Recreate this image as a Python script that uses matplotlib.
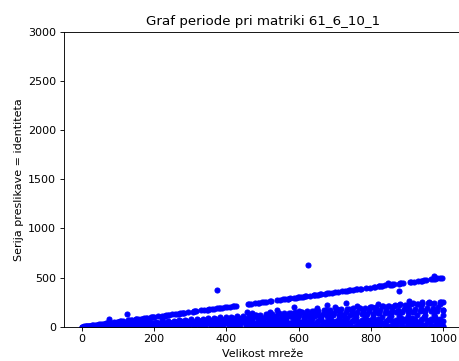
import matplotlib
matplotlib.use("Agg")
import matplotlib.pyplot as plt

title = "Graf periode pri matriki 61_6_10_1"
x_label = "Velikost mreže"
y_label = "Serija preslikave = identiteta"
y_ticks = [0, 500, 1000, 1500, 2000, 2500, 3000]
x_ticks = [0, 200, 400, 600, 800, 1000]

# points on the upper line (period about half of the size)
top_line = [(1,1),(3,1),(7,3),(11,5),(13,7),(17,8),(19,9),(23,11),(29,14),(31,15),(37,19),(41,20),
    (43,22),(47,23),(53,27),(59,29),(61,30),(67,33),(71,35),(73,37),(79,39),(83,41),(89,44),
    (97,48),(101,50),(103,52),(107,53),(109,54),(113,56),(127,64),(131,65),(137,68),(139,70),
    (149,74),(151,75),(157,79),(163,81),(167,83),(173,87),(179,89),(181,90),(191,95),(193,96),
    (197,99),(199,100),(211,105),(223,112),(227,113),(229,114),(233,117),(239,119),(241,120),
    (251,125),(257,128),(263,132),(269,134),(271,136),(277,138),(281,140),(283,142),(293,146),
    (307,153),(311,155),(313,157),(317,158),(331,165),(337,169),(347,173),(349,175),(353,176),
    (359,179),(367,184),(373,186),(379,189),(383,192),(389,194),(397,199),(401,200),(409,204),
    (419,209),(421,211),(427,214),(461,230),(463,232),(467,233),(479,239),(487,244),(491,245),
    (499,250),(503,251),(509,254),(521,261),(523,261),(541,270),(547,274),(557,278),(563,282),
    (569,284),(571,286),(577,288),(587,294),(593,296),(599,300),(601,300),(607,304),(613,306),
    (617,309),(619,310),(631,315),(641,320),(643,322),(647,323),(653,326),(659,329),(661,331),
    (673,336),(677,339),(683,341),(691,346),(701,350),(709,355),(719,359),(727,364),(733,366),
    (739,370),(743,371),(751,375),(757,379),(761,380),(769,385),(773,386),(787,394),(797,399),
    (809,404),(811,406),(821,410),(823,412),(827,413),(829,415),(839,420),(853,426),(857,429),
    (859,430),(863,432),(877,438),(881,440),(883,442),(887,443),(907,454),(911,455),(919,460),
    (929,464),(937,469),(941,470),(947,474),(953,477),(967,484),(971,485),(977,489),(983,492),
    (991,496),(997,499)]

# isolated high points
outliers = [(75,75),(125,125),(375,375),(625,625),(975,520),(878,368),(848,448)]

# middle layer (roughly a quarter to a third of the size)
middle_layer = [(456,150),(470,140),(520,150),(540,175),(588,196),(600,160),(650,195),(679,224),
    (700,200),(731,244),(760,210),(800,200),(820,235),(850,215),(880,230),(905,262),(915,240),
    (940,250),(960,255),(990,230),(1000,250),(1000,170),(1000,60),(999,0),(996,10)]

# dense lower band
lower_band = [(2,0),(9,2),(15,4),(21,3),(27,6),(35,5),(40,10),(48,8),(55,12),(62,7),(70,15),
    (77,10),(85,18),(93,9),
    (102,17),(102,8),(110,27),(110,4),(118,20),(118,10),(126,42),(126,6),(134,22),(134,12),
    (142,35),(142,2),(150,25),(150,14),(158,39),(158,6),(166,28),(166,20),(174,58),(174,10),
    (182,30),(182,15),(182,3),(190,47),(190,24),(198,33),(198,11),(206,51),(206,17),(206,4),
    (214,35),(214,8),(222,74),(222,18),(230,38),(230,23),(230,6),(238,59),(238,12),(246,41),
    (246,20),(246,2),(254,63),(254,31),(262,43),(262,13),(262,7),(270,67),(270,22),(278,46),
    (278,35),(278,9),(286,71),(286,14),(294,49),(294,24),(294,3),(302,75),(302,37),(310,51),
    (310,15),(310,10),(318,79),(318,26),(326,54),(326,40),(326,5),(334,83),(334,16),(342,57),
    (342,28),(342,12),(350,87),(350,43),(358,59),(358,18),(358,6),(366,91),(366,30),(374,62),
    (374,46),(374,11),(382,95),(382,19),(390,65),(390,32),(390,4),(398,99),(398,49),(406,67),
    (406,20),(406,13),(414,103),(414,34),(422,70),(422,52),(422,7),(430,107),(430,21),(438,73),
    (438,36),(438,2),(446,111),(446,55),(454,75),(454,22),(454,14),(462,115),(462,38),(470,78),
    (470,58),(470,9),(478,119),(478,23),(486,81),(486,40),(486,5),(494,123),(494,61),(502,83),
    (502,25),(502,15),(510,127),(510,42),(518,86),(518,64),(518,8),(526,131),(526,26),(534,89),
    (534,44),(534,3),(542,135),(542,67),(550,91),(550,27),(550,12),(558,139),(558,46),(566,94),
    (566,70),(566,6),(574,143),(574,28),(582,97),(582,48),(582,16),(590,147),(590,73),(598,99),
    (598,30),(598,4),(606,151),(606,50),(614,102),(614,76),(614,10),(622,155),(622,31),(630,105),
    (630,52),(630,18),(638,159),(638,79),(646,107),(646,32),(646,7),(654,163),(654,54),(662,110),
    (662,82),(662,2),(670,167),(670,33),(678,113),(678,56),(678,14),(686,171),(686,85),(694,115),
    (694,34),(694,8),(702,175),(702,58),(710,118),(710,88),(710,20),(718,179),(718,36),(726,121),
    (726,60),(726,5),(734,183),(734,91),(742,123),(742,37),(742,12),(750,187),(750,62),(758,126),
    (758,94),(758,3),(766,191),(766,38),(774,129),(774,64),(774,16),(782,195),(782,97),(790,131),
    (790,39),(790,9),(798,199),(798,66),(806,134),(806,100),(806,22),(814,203),(814,40),(822,137),
    (822,68),(822,6),(830,207),(830,103),(838,139),(838,42),(838,14),(846,211),(846,70),(854,142),
    (854,106),(854,4),(862,215),(862,43),(870,145),(870,72),(870,18),(878,219),(878,109),(886,147),
    (886,44),(886,10),(894,223),(894,74),(902,150),(902,112),(902,2),(910,227),(910,45),(918,153),
    (918,76),(918,20),(926,231),(926,115),(934,155),(934,46),(934,8),(942,235),(942,78),(950,158),
    (950,118),(950,15),(958,239),(958,48),(966,161),(966,80),(966,5),(974,243),(974,121),(982,163),
    (982,49),(982,12),(990,247),(990,82),(998,166),(998,124),(998,3)]

# extra points filling the lower band between the columns above
lower_fill = [(210,42),(218,22),(226,45),(234,23),(242,48),(250,25),(258,52),(266,27),(274,55),
    (282,28),(290,58),(298,30),(306,61),(314,31),(322,64),(330,33),(338,68),(346,35),(354,71),
    (362,36),(370,74),(378,38),(386,77),(394,39),(402,80),(410,41),(418,84),(426,43),(434,87),
    (442,44),(450,90),(458,46),
    (466,93),(466,33),(466,12),(474,95),(474,18),(482,120),(482,34),(482,6),(490,98),(490,35),
    (498,83),(498,24),(498,10),(506,101),(506,36),(514,128),(514,47),(514,2),(522,104),(522,37),
    (530,88),(530,53),(530,14),(538,108),(538,38),(546,136),(546,26),(546,8),(554,111),(554,40),
    (562,94),(562,56),(562,17),(570,114),(570,41),(578,144),(578,29),(578,5),(586,117),(586,42),
    (594,99),(594,59),(594,11),(602,120),(602,43),(610,152),(610,30),(610,20),(618,124),(618,44),
    (626,104),(626,63),(626,3),(634,127),(634,45),(642,160),(642,32),(642,13),(650,130),(650,46),
    (658,110),(658,66),(658,7),(666,133),(666,48),(674,168),(674,34),(674,19),(682,136),(682,49),
    (690,115),(690,69),(690,4),(698,140),(698,50),(706,176),(706,35),(706,15),(714,143),(714,51),
    (722,120),(722,72),(722,9),(730,146),(730,52),(738,184),(738,37),(738,21),(746,149),(746,53),
    (754,126),(754,75),(754,2),(762,152),(762,54),(770,192),(770,38),(770,13),(778,156),(778,56),
    (786,131),(786,79),(786,7),(794,159),(794,57),(802,200),(802,40),(802,18),(810,162),(810,58),
    (818,136),(818,82),(818,5),(826,165),(826,59),(834,208),(834,42),(834,24),(842,168),(842,60),
    (850,142),(850,85),(850,11),(858,172),(858,61),(866,216),(866,43),(866,3),(874,175),(874,62),
    (882,147),(882,88),(882,16),(890,178),(890,64),(898,224),(898,45),(898,8),(906,181),(906,65),
    (914,152),(914,91),(914,20),(922,184),(922,66),(930,232),(930,47),(930,6),(938,188),(938,67),
    (946,158),(946,95),(946,13),(954,191),(954,68),(962,240),(962,48),(962,2),(970,194),(970,69),
    (978,163),(978,98),(978,17),(986,197),(986,70),(994,248),(994,50),(994,9)]

groups = [top_line, outliers, middle_layer, lower_band, lower_fill]
xs = [p[0] for g in groups for p in g]
ys = [p[1] for g in groups for p in g]

fig = plt.figure(figsize=(459/80, 361/80), dpi=80)
ax = fig.add_axes([64/459, 34.3/361, 397.5/459, 294.7/361])
ax.scatter(xs, ys, color="blue", s=20)
ax.set_xlim(-48.95, 1049.95)
ax.set_ylim(0, 3000)
ax.set_xticks(x_ticks)
ax.set_yticks(y_ticks)
ax.set_title(title)
ax.set_xlabel(x_label)
ax.set_ylabel(y_label)
fig.savefig("out.png", dpi=80)
